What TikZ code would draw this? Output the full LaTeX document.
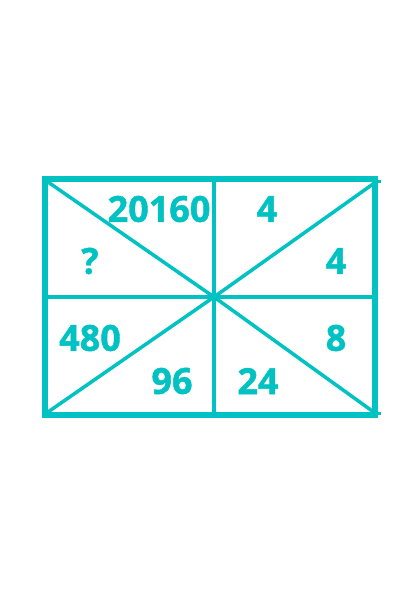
\documentclass[tikz,border=0pt]{standalone}
\usepackage{fontspec}
\setmainfont{Open Sans}
\newfontfamily\numfont[FakeBold=1.2]{Open Sans Bold}
\definecolor{teal1}{RGB}{0,194,194}
\begin{document}
\begin{tikzpicture}[x=1pt,y=-1pt,
  frame/.style={draw=teal1,line width=6pt},
  inner/.style={draw=teal1,line width=3.5pt},
  num/.style={text=teal1,font=\numfont\fontsize{36}{40}\selectfont,inner sep=0pt,anchor=center}]
\useasboundingbox (0,0) rectangle (420,594);
\coordinate (tl) at (45,179);
\coordinate (tr) at (375,179);
\coordinate (br) at (375,415);
\coordinate (bl) at (45,415);
\coordinate (c) at (214,297);
\coordinate (tm) at (214,179);
\coordinate (bm) at (214,415);
\coordinate (ml) at (45,297);
\coordinate (mr) at (375,297);
\draw[inner] (tm) -- (bm);
\draw[inner] (ml) -- (mr);
\draw[inner] (48,182) -- (c) -- (375,413);
\draw[inner] (48,412) -- (c) -- (373,184);
\draw[frame] (tl) -- (tr) -- (br) -- (bl) -- cycle;
\draw[teal1,line width=3pt] (375,181) -- (381,181);
\draw[teal1,line width=3pt] (375,413) -- (381,413);
\node[num] (n1) at (159,209) {20160};
\node[num] (n2) at (267,209) {4};
\node[num] (n3) at (90,261) {?};
\node[num] (n4) at (336,261) {4};
\node[num] (n5) at (90,338) {480};
\node[num] (n6) at (336,338) {8};
\node[num] (n7) at (172,381) {96};
\node[num] (n8) at (258,381) {24};
\end{tikzpicture}
\end{document}
